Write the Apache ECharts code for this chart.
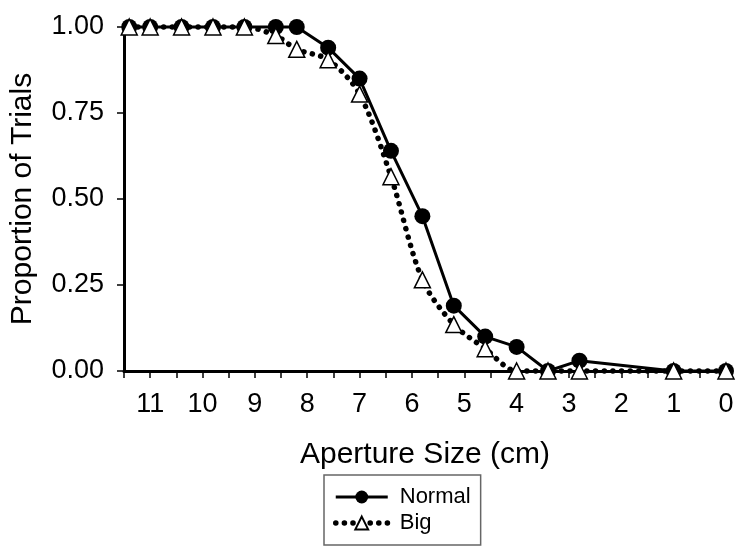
<!DOCTYPE html>
<html>
<head>
<meta charset="utf-8">
<script src="https://cdn.jsdelivr.net/npm/echarts@6/dist/echarts.min.js"></script>
<style>
html,body{margin:0;padding:0;background:#fff;}
#chart{width:750px;height:551px;}
</style>
</head>
<body>
<div id="chart"></div>
<script>
// Aperture sizes (cm) at which trials were run
var apertureSizes = [11.4, 11.0, 10.4, 9.8, 9.2, 8.6, 8.2, 7.6, 7.0, 6.4, 5.8, 5.2, 4.6, 4.0, 3.4, 2.8, 1.0, 0.0];
// Proportion of trials, Normal condition
var normalValues = [1.0, 1.0, 1.0, 1.0, 1.0, 1.0, 1.0, 0.94, 0.85, 0.64, 0.45, 0.19, 0.10, 0.07, 0.0, 0.03, 0.0, 0.0];
// Proportion of trials, Big condition
var bigValues = [1.0, 1.0, 1.0, 1.0, 1.0, 0.975, 0.935, 0.905, 0.805, 0.565, 0.265, 0.135, 0.065, 0.0, 0.0, 0.0, 0.0, 0.0];
var seriesNames = ['Normal', 'Big'];
var xTickLabels = ['0', '1', '2', '3', '4', '5', '6', '7', '8', '9', '10', '11'];
var yTickLabels = ['0.00', '0.25', '0.50', '0.75', '1.00'];
var xAxisTitle = 'Aperture Size (cm)';
var yAxisTitle = 'Proportion of Trials';

function pairs(xs, ys) {
  return xs.map(function (x, i) { return [x, ys[i]]; });
}

var FONT = '"Liberation Sans", Arial, sans-serif';
var DOTS = {color: '#000', width: 5.5, type: [0.1, 8.5], cap: 'round'};
var chart = echarts.init(document.getElementById('chart'), null, {renderer: 'canvas'});
chart.setOption({
  animation: false,
  backgroundColor: '#ffffff',
  grid: {left: 124, right: 24, top: 27, bottom: 180, containLabel: false, outerBoundsMode: 'none'},
  legend: {
    orient: 'vertical',
    left: 324,
    top: 475,
    data: [
      {name: seriesNames[0], lineStyle: {color: '#000', width: 3}},
      {name: seriesNames[1], lineStyle: DOTS}
    ],
    itemWidth: 52,
    itemHeight: 16,
    itemGap: 4,
    padding: [11, 10, 11, 9],
    borderColor: '#666',
    borderWidth: 1.5,
    borderRadius: 0,
    textStyle: {fontFamily: FONT, fontSize: 22, color: '#000', padding: [0, 0, 0, 7]}
  },
  xAxis: {
    type: 'value',
    inverse: true,
    min: 0,
    max: 11.5,
    interval: 0.5,
    name: xAxisTitle,
    nameLocation: 'middle',
    nameGap: 69,
    nameTextStyle: {fontFamily: FONT, fontSize: 30, color: '#000'},
    splitLine: {show: false},
    axisLine: {show: true, onZero: false, lineStyle: {color: '#000', width: 3}},
    axisTick: {show: true, length: 7, lineStyle: {color: '#000', width: 1.5}},
    axisLabel: {
      fontFamily: FONT, fontSize: 27, color: '#000', margin: 20,
      formatter: function (v) {
        var idx = xTickLabels.indexOf(String(v));
        return idx >= 0 ? xTickLabels[idx] : '';
      }
    }
  },
  yAxis: {
    type: 'value',
    position: 'left',
    min: 0,
    max: 1,
    interval: 0.25,
    name: yAxisTitle,
    nameLocation: 'middle',
    nameGap: 86,
    nameTextStyle: {fontFamily: FONT, fontSize: 30, color: '#000'},
    splitLine: {show: false},
    axisLine: {show: true, onZero: false, lineStyle: {color: '#000', width: 3}},
    axisTick: {show: true, length: 7, lineStyle: {color: '#000', width: 1.5}},
    axisLabel: {
      fontFamily: FONT, fontSize: 27, color: '#000', margin: 20,
      formatter: function (v) { return yTickLabels[Math.round(v / 0.25)]; }
    }
  },
  series: [
    {
      name: seriesNames[0],
      type: 'line',
      data: pairs(apertureSizes, normalValues),
      symbol: 'circle',
      symbolSize: 16,
      clip: false,
      lineStyle: {color: '#000', width: 3},
      itemStyle: {color: '#000', borderColor: '#000', borderWidth: 0}
    },
    {
      name: seriesNames[1],
      type: 'line',
      data: pairs(apertureSizes, bigValues),
      symbol: 'triangle',
      symbolSize: 16,
      smooth: 0.3,
      clip: false,
      lineStyle: DOTS,
      itemStyle: {color: '#fff', borderColor: '#000', borderWidth: 1.5}
    }
  ]
});
</script>
</body>
</html>
